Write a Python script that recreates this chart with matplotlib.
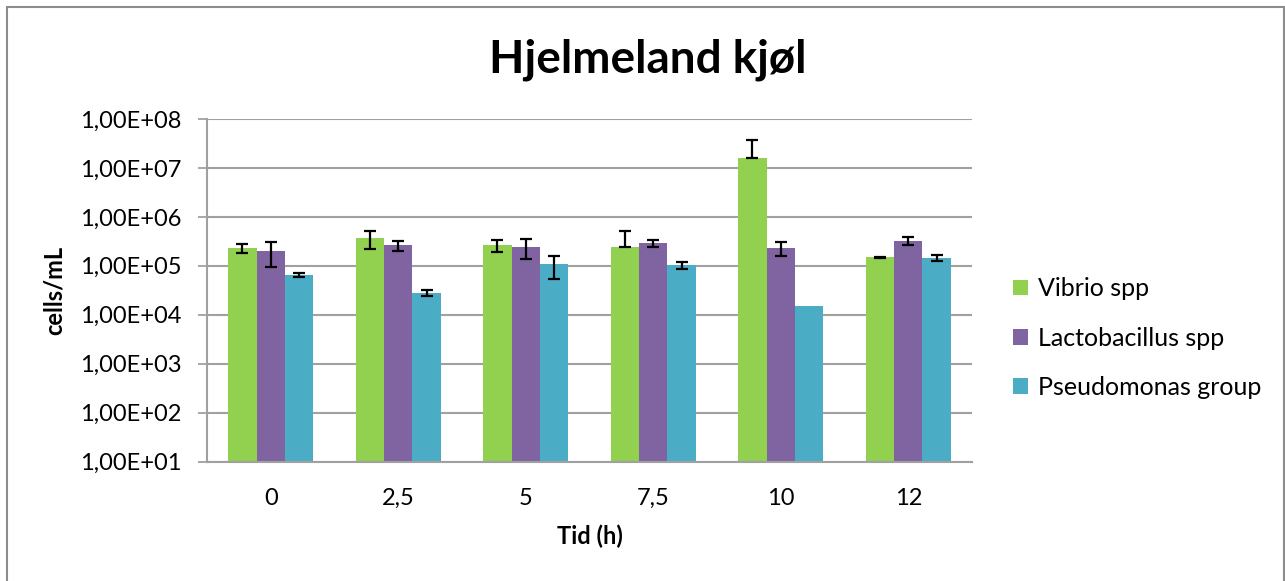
import matplotlib.pyplot as plt
import numpy as np
from matplotlib.patches import Rectangle

plt.rcParams['font.family'] = ['Lato', 'DejaVu Sans']

# data
tider = ['0', '2,5', '5', '7,5', '10', '12']
serier = ['Vibrio spp', 'Lactobacillus spp', 'Pseudomonas group']
vibrio = [2.3e5, 3.7e5, 2.6e5, 2.4e5, 1.58e7, 1.49e5]
lacto = [2.0e5, 2.6e5, 2.4e5, 2.9e5, 2.3e5, 3.25e5]
pseudo = [6.5e4, 2.8e4, 1.07e5, 1.03e5, 1.48e4, 1.44e5]
vibrio_err = [5e4, 1.5e5, 7e4, 2.8e5, 2.2e7, 2e3]
lacto_err = [1.05e5, 6e4, 1.05e5, 4.5e4, 7.5e4, 6.5e4]
pseudo_err = [6.5e3, 3.5e3, 5.4e4, 1.7e4, 0, 2e4]
farger = ['#92D050', '#8064A2', '#4BACC6']
ytikker = [1e1, 1e2, 1e3, 1e4, 1e5, 1e6, 1e7, 1e8]
ytekst = ['1,00E+01', '1,00E+02', '1,00E+03', '1,00E+04',
          '1,00E+05', '1,00E+06', '1,00E+07', '1,00E+08']

fig = plt.figure(figsize=(12.85, 5.81), dpi=100)
ax = fig.add_axes([207/1285, 119.5/581, 765/1285, 342.5/581])

x = np.arange(len(tider))
w = 0.2222
verdier = [vibrio, lacto, pseudo]
feil = [vibrio_err, lacto_err, pseudo_err]
for i in range(3):
    pos = x + (i - 1) * w
    v = np.array(verdier[i])
    e = np.array(feil[i])
    ax.bar(pos, v, width=w, color=farger[i], label=serier[i], zorder=2)
    lower = np.where(e < v, e, 0)
    m = e > 0
    ax.errorbar(pos[m], v[m], yerr=[lower[m], e[m]], fmt='none', ecolor='black',
                elinewidth=1.6, capsize=4.5, capthick=1.6, zorder=3)

ax.set_yscale('log')
ax.set_ylim(1e1, 1e8)
ax.set_xlim(-0.5, 5.5)
ax.set_yticks(ytikker)
ax.set_yticklabels(ytekst)
ax.minorticks_off()
ax.set_xticks(x)
ax.set_xticklabels(tider)
ax.tick_params(axis='y', length=6.5, width=1.3, color='#A0A0A0', pad=12, labelsize=17)
ax.tick_params(axis='x', length=0, pad=19, labelsize=17)
ax.grid(axis='y', color='#A0A0A0', linewidth=1.5, zorder=0)
ax.set_axisbelow(True)
for s in ['top', 'right']:
    ax.spines[s].set_visible(False)
for s in ['left', 'bottom']:
    ax.spines[s].set_color('#A0A0A0')
    ax.spines[s].set_linewidth(1.5)

ax.set_xlabel('Tid (h)', fontsize=17, fontweight='bold', labelpad=11)
ax.set_ylabel('cells/mL', fontsize=17, fontweight='bold', labelpad=10)
fig.text(648/1285, 1 - 60/581, 'Hjelmeland kjøl', ha='center', va='center',
         fontsize=33, fontweight='bold')

ax.legend(loc='center left', bbox_to_anchor=(1013/1285, 1 - 338/581),
          bbox_transform=fig.transFigure, frameon=False, fontsize=18,
          handlelength=0.6, handleheight=0.6, handletextpad=0.4,
          labelspacing=1.05, borderpad=0, borderaxespad=0)

fig.patches.append(Rectangle((7/1285, -0.05), 1277/1285, 1.05 - 7/581,
                             transform=fig.transFigure, fill=False,
                             edgecolor='#8C8C8C', linewidth=1.5))

fig.savefig('out.png', dpi=100)
